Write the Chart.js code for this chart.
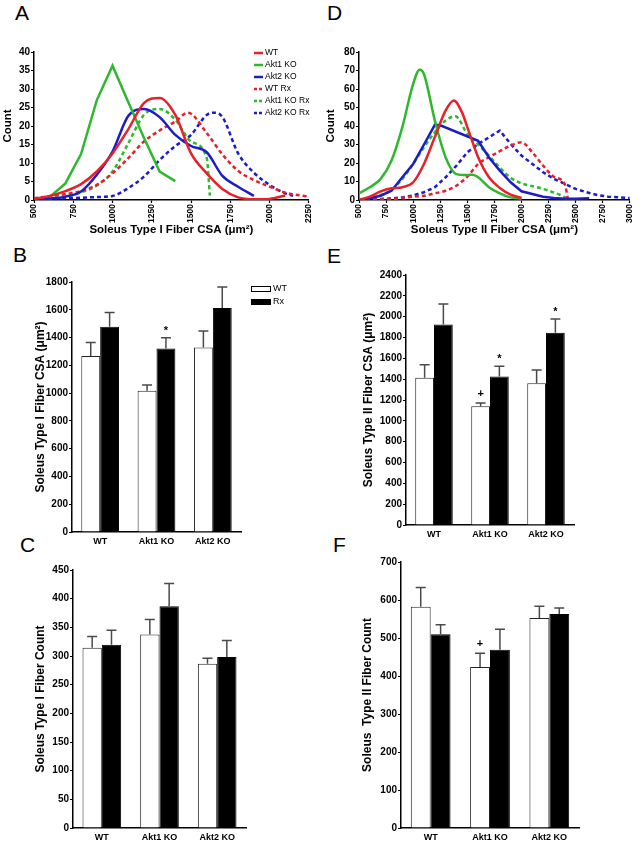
<!DOCTYPE html>
<html><head><meta charset="utf-8">
<script src="https://cdn.jsdelivr.net/npm/chart.js@4.4.1/dist/chart.umd.min.js"></script>
<style>
html,body{margin:0;padding:0;background:#fff;width:641px;height:843px;overflow:hidden}
canvas{position:absolute}
.lbl{position:absolute;font-family:'Liberation Sans',Arial,sans-serif;font-size:21px;line-height:1;color:#000}
</style></head><body>
<div class="lbl" style="left:15px;top:2px">A</div>
<div class="lbl" style="left:327px;top:2px">D</div>
<div class="lbl" style="left:13px;top:244px">B</div>
<div class="lbl" style="left:327px;top:245px">E</div>
<div class="lbl" style="left:20px;top:534px">C</div>
<div class="lbl" style="left:333px;top:534px">F</div>
<canvas id="cA" width="320" height="200" style="left:0;top:40px"></canvas>
<canvas id="cD" width="321" height="200" style="left:320px;top:40px"></canvas>
<canvas id="cB" width="320" height="285" style="left:0;top:265px"></canvas>
<canvas id="cE" width="321" height="285" style="left:320px;top:258px"></canvas>
<canvas id="cC" width="320" height="288" style="left:0;top:555px"></canvas>
<canvas id="cF" width="321" height="298" style="left:320px;top:545px"></canvas>
<script>
// ---------- DATA ----------
// Panel A: Soleus Type I fiber CSA distribution
const A_WT_x      = [500,600,700,800,900,1000,1100,1200,1300,1400,1500,1600,1700,1800,1900,2000,2100];
const A_WT_y      = [0.3,1.1,2.4,4.3,7.7,12.6,19.1,26.2,27.6,23,12.6,7.2,3,0.7,0.2,0.3,1.2];
const A_Akt1_x    = [600,700,800,900,1000,1100,1200,1300,1400];
const A_Akt1_y    = [0.8,4.5,12.5,27,36.3,26.5,16.8,7.7,5.1];
const A_Akt2_x    = [500,600,700,800,900,1000,1100,1200,1300,1400,1500,1600,1700,1800,1900];
const A_Akt2_y    = [0.2,0.4,0.9,2.3,6.8,13.1,22.7,24.6,22.4,17.6,14.6,12.9,6.5,3.6,1.1];
const A_WTRx_x    = [500,600,700,800,900,1000,1100,1200,1300,1400,1480,1600,1700,1800,1900,2000,2100,2200,2250];
const A_WTRx_y    = [0.5,1,1.6,2.4,4.1,7.2,11.3,15.8,18.8,21.2,23.6,18.1,12.3,7.9,5.4,3.6,2,1.2,0.9];
const A_Akt1Rx_x  = [500,600,700,800,900,1000,1100,1200,1300,1400,1500,1600,1620];
const A_Akt1Rx_y  = [0.2,0.5,0.9,2.1,3.9,7.7,15.3,23,24.6,21.7,15.8,11.3,1.2];
const A_Akt2Rx_x  = [500,600,700,800,900,1000,1100,1200,1300,1400,1500,1600,1650,1700,1800,1900,2000,2100,2150];
const A_Akt2Rx_y  = [0.3,0.4,0.5,0.6,0.8,1.1,3.2,6.3,10.8,14.6,17.6,23,23.6,22.4,12.6,7.4,4.1,1.8,1.1];
// Panel D: Soleus Type II fiber CSA distribution
const D_WT_x      = [500,600,700,800,900,1000,1100,1200,1300,1375,1450,1500,1600,1700,1800,1900,2000];
const D_WT_y      = [0,1.8,4.7,6.3,6.9,9.6,19.5,34,48.4,53.8,47.5,39.4,23.1,12.3,6.5,2.9,1.1];
const D_Akt1_x    = [500,600,700,800,900,1000,1060,1100,1200,1300,1400,1500,1550,1600,1700,1800,1900,2000];
const D_Akt1_y    = [3.6,6.9,11.4,21.3,39.4,62.8,70.4,68,43,23,14,13.5,13.7,12.3,6.9,3.6,1.4,0.7];
const D_Akt2_x    = [500,600,700,800,900,1000,1100,1200,1250,1600,1700,1800,1900,2000,2100,2200,2300,2400,2500,2625];
const D_Akt2_y    = [0,1,2.3,5,12.3,19.5,30,40.6,40.4,32,23,15.9,9.6,4.7,3.2,1.8,1.1,0.7,0.7,0.9];
const D_WTRx_x    = [500,600,700,800,900,1000,1100,1200,1300,1400,1500,1600,1700,1800,1900,2000,2100,2200,2300,2400,2430];
const D_WTRx_y    = [0,0.2,0.3,0.5,1.1,1.8,2.3,3.6,5,7.8,12.6,19.5,23.1,26.4,29.4,31.2,25.8,18.6,12.5,8.5,0];
const D_Akt1Rx_x  = [500,600,700,800,900,1000,1100,1200,1300,1390,1500,1600,1700,1800,1900,2000,2100,2200,2300,2400,2425];
const D_Akt1Rx_y  = [0.4,1,2.7,5.4,11.4,19.5,28.5,36.6,43,45.3,35.7,30,24,17.5,12,9,7.5,6,4,1.5,0.5];
const D_Akt2Rx_x  = [500,600,700,800,900,1000,1100,1200,1300,1400,1500,1600,1700,1800,1900,2000,2100,2200,2300,2400,2500,2600,2700,2800,2900,3000];
const D_Akt2Rx_y  = [0,0.2,0.5,0.9,1.4,2.5,4.2,6.9,12.3,18.6,25.8,30.3,33.9,37.5,30.3,24,19.5,15,11.4,8.7,6,4.2,2.7,1.8,1.4,1.1];
const seriesLabels = ['WT','Akt1 KO','Akt2 KO','WT Rx','Akt1 KO Rx','Akt2 KO Rx'];
const xTicksA = [500,2250], xTicksD = [500,3000];

// Bar panels
const groups = ['WT','Akt1 KO','Akt2 KO'];
const B_wt = [1268,1017,1328], B_wtErr = [1365,1058,1448];
const B_rx = [1477,1321,1612], B_rxErr = [1581,1398,1764];
const B_wtMark = ['','',''],   B_rxMark = ['','*',''];
const E_wt = [1413,1140,1361], E_wtErr = [1538,1171,1487];
const E_rx = [1926,1426,1845], E_rxErr = [2122,1525,1977];
const E_wtMark = ['','+',''],  E_rxMark = ['','*','*'];
const C_wt = [314.6,337.3,286.6], C_wtErr = [333.8,363.6,295.9];
const C_rx = [319.8,386.9,298.3], C_rxErr = [344.9,426.5,326.9];
const C_wtMark = ['','',''],   C_rxMark = ['','',''];
const F_wt = [582.5,423.7,552.6], F_wtErr = [633,459.6,583.3];
const F_rx = [509.6,469.3,563.2], F_rxErr = [535,522.8,578.9];
const F_wtMark = ['','+',''],  F_rxMark = ['','',''];

// ---------- STYLE ----------
const FONT = "'Liberation Sans', Arial, Helvetica, sans-serif";
Chart.defaults.font.family = FONT;
Chart.defaults.color = '#000';
const RED = '#e8202a', GREEN = '#2eb82e', BLUE = '#1c1cc8';
const COLORS = [RED, GREEN, BLUE, RED, GREEN, BLUE];
const fmt = v => String(v);

const lineLegend = {
  id: 'lineLegend',
  afterDraw(chart) {
    const o = chart.config.options.myLegend; if (!o) return;
    const ctx = chart.ctx; ctx.save();
    ctx.font = '8.5px ' + FONT; ctx.textBaseline = 'middle'; ctx.fillStyle = '#000';
    chart.data.datasets.forEach((ds, i) => {
      const y = o.y + i * o.dy;
      ctx.strokeStyle = ds.borderColor; ctx.lineWidth = 2.5;
      ctx.setLineDash(ds.borderDash && ds.borderDash.length ? [3, 2] : []);
      ctx.beginPath(); ctx.moveTo(o.x, y); ctx.lineTo(o.x + 9, y); ctx.stroke();
      ctx.setLineDash([]);
      ctx.fillText(ds.label, o.x + 11, y);
    });
    ctx.restore();
  }
};

function lineChart(id, xs, ys, tensions, xmax, ymax, ystep, xTitle, L) {
  const datasets = xs.map((xa, i) => ({
    label: seriesLabels[i],
    data: xa.map((x, k) => ({x: x, y: ys[i][k]})),
    borderColor: COLORS[i], borderWidth: 2.5,
    borderDash: i >= 3 ? [4, 3] : [],
    pointRadius: 0, fill: false,
    tension: tensions[i] ? 0.4 : 0,
    cubicInterpolationMode: tensions[i] ? 'monotone' : 'default'
  }));
  const axisFont = {size: 11.5, weight: 'bold'};
  return new Chart(document.getElementById(id), {
    type: 'line',
    data: {datasets: datasets},
    options: {
      responsive: false, animation: false,
      layout: {padding: {top: 12, right: L.right, left: 0, bottom: 0}},
      myLegend: L.legend,
      plugins: {legend: {display: false}, tooltip: {enabled: false}},
      scales: {
        x: {type: 'linear', min: 500, max: xmax,
            afterFit: s => { s.height = 40; },
            ticks: {stepSize: 250, autoSkip: false, minRotation: 90, maxRotation: 90, padding: 1,
                    font: {size: 8.5, weight: 'bold'}, callback: fmt},
            grid: {drawOnChartArea: false, drawTicks: true, tickLength: 3, tickColor: '#000', tickWidth: 1.2},
            border: {color: '#000', width: 1.5},
            title: {display: true, text: xTitle, font: axisFont, padding: {top: 0, bottom: 3}}},
        y: {min: 0, max: ymax,
            afterFit: s => { s.width = L.yw; },
            ticks: {stepSize: ystep, padding: 1, font: {size: 10, weight: 'bold'}, callback: fmt},
            grid: {drawOnChartArea: false, drawTicks: true, tickLength: 3, tickColor: '#000', tickWidth: 1.2},
            border: {color: '#000', width: 1.5},
            title: {display: true, text: 'Count', font: axisFont, padding: {top: L.ytp, bottom: 0}}}
      }
    },
    plugins: [lineLegend]
  });
}

lineChart('cA',
  [A_WT_x, A_Akt1_x, A_Akt2_x, A_WTRx_x, A_Akt1Rx_x, A_Akt2Rx_x],
  [A_WT_y, A_Akt1_y, A_Akt2_y, A_WTRx_y, A_Akt1Rx_y, A_Akt2Rx_y],
  [1, 0, 1, 1, 1, 1], xTicksA[1], 40, 5, 'Soleus Type I Fiber CSA (\u03bcm\u00b2)',
  {right: 9, yw: 34, ytp: 1, legend: {x: 254, y: 13, dy: 12}});

lineChart('cD',
  [D_WT_x, D_Akt1_x, D_Akt2_x, D_WTRx_x, D_Akt1Rx_x, D_Akt2Rx_x],
  [D_WT_y, D_Akt1_y, D_Akt2_y, D_WTRx_y, D_Akt1Rx_y, D_Akt2Rx_y],
  [1, 1, 0, 1, 1, 0], xTicksD[1], 80, 10, 'Soleus Type II Fiber CSA (\u03bcm\u00b2)',
  {right: 8, yw: 39, ytp: 4, legend: null});

// ---------- BAR CHARTS ----------
const errPlugin = {
  id: 'errBars',
  afterDatasetsDraw(chart) {
    const ctx = chart.ctx, ys = chart.scales.y;
    chart.data.datasets.forEach((ds, i) => {
      const meta = chart.getDatasetMeta(i);
      meta.data.forEach((bar, j) => {
        const top = ys.getPixelForValue(ds.err[j]);
        ctx.save();
        ctx.strokeStyle = '#4a4a4a'; ctx.lineWidth = 1.5;
        ctx.beginPath();
        ctx.moveTo(bar.x, bar.y); ctx.lineTo(bar.x, top);
        ctx.moveTo(bar.x - 5, top); ctx.lineTo(bar.x + 5, top);
        ctx.stroke();
        const m = ds.marks[j];
        if (m) {
          ctx.fillStyle = '#000'; ctx.font = 'bold 11px ' + FONT;
          ctx.textAlign = 'center'; ctx.textBaseline = 'middle';
          ctx.fillText(m, bar.x, top - (m === '*' ? 7 : 9));
        }
        ctx.restore();
      });
    });
  }
};
const barLegend = {
  id: 'barLegend',
  afterDraw(chart) {
    const o = chart.config.options.myLegend; if (!o) return;
    const ctx = chart.ctx; ctx.save();
    ctx.font = '9px ' + FONT; ctx.textBaseline = 'middle'; ctx.fillStyle = '#000';
    chart.data.datasets.forEach((ds, i) => {
      const y = o.y + i * o.dy;
      ctx.fillStyle = ds.backgroundColor; ctx.strokeStyle = '#000'; ctx.lineWidth = 1;
      ctx.fillRect(o.x, y - 3, 20, 6); ctx.strokeRect(o.x + 0.5, y - 2.5, 19, 5);
      ctx.fillStyle = '#000';
      ctx.fillText(ds.label, o.x + 22, y);
    });
    ctx.restore();
  }
};

function barChart(id, wt, wtErr, wtMark, rx, rxErr, rxMark, ymax, ystep, yTitle, L) {
  return new Chart(document.getElementById(id), {
    type: 'bar',
    data: {labels: groups, datasets: [
      {label: 'WT', data: wt, err: wtErr, marks: wtMark, backgroundColor: '#ffffff', borderColor: '#222', borderWidth: 1},
      {label: 'Rx', data: rx, err: rxErr, marks: rxMark, backgroundColor: '#000000', borderColor: '#000', borderWidth: 1}
    ]},
    options: {
      responsive: false, animation: false,
      layout: {padding: {top: L.top, right: L.right, left: 0, bottom: 0}},
      myLegend: L.legend,
      datasets: {bar: {categoryPercentage: 0.67, barPercentage: 1}},
      plugins: {legend: {display: false}, tooltip: {enabled: false}},
      scales: {
        x: {afterFit: s => { s.height = L.xh; },
            ticks: {padding: 4, font: {size: 9, weight: 'bold'}},
            grid: {display: true, drawOnChartArea: false, drawTicks: false},
            border: {color: '#000', width: 1.5}},
        y: {min: 0, max: ymax,
            afterFit: s => { s.width = L.yw; },
            ticks: {stepSize: ystep, padding: 1, font: {size: 10, weight: 'bold'}, callback: fmt},
            grid: {drawOnChartArea: false, drawTicks: true, tickLength: 3, tickColor: '#000', tickWidth: 1.2},
            border: {color: '#000', width: 1.5},
            title: {display: true, text: yTitle, font: {size: 12, weight: 'bold'}, padding: {top: L.ytp, bottom: 0}}}
      }
    },
    plugins: [errPlugin, barLegend]
  });
}

barChart('cB', B_wt, B_wtErr, B_wtMark, B_rx, B_rxErr, B_rxMark, 1800, 200,
  'Soleus Type I Fiber CSA (\u03bcm\u00b2)',
  {top: 17, right: 79, xh: 18, yw: 72, ytp: 33.8, legend: {x: 251, y: 24, dy: 13}});
barChart('cE', E_wt, E_wtErr, E_wtMark, E_rx, E_rxErr, E_rxMark, 2400, 200,
  'Soleus Type II Fiber CSA (\u03bcm\u00b2)',
  {top: 17, right: 67, xh: 18, yw: 86, ytp: 41.8, legend: null});
barChart('cC', C_wt, C_wtErr, C_wtMark, C_rx, C_rxErr, C_rxMark, 450, 50,
  'Soleus Type I Fiber Count',
  {top: 15, right: 74, xh: 15, yw: 73, ytp: 33.8, legend: null});
barChart('cF', F_wt, F_wtErr, F_wtMark, F_rx, F_rxErr, F_rxMark, 700, 100,
  'Soleus  Type II Fiber Count',
  {top: 17, right: 62, xh: 15, yw: 81, ytp: 40.8, legend: null});
</script>
</body></html>
